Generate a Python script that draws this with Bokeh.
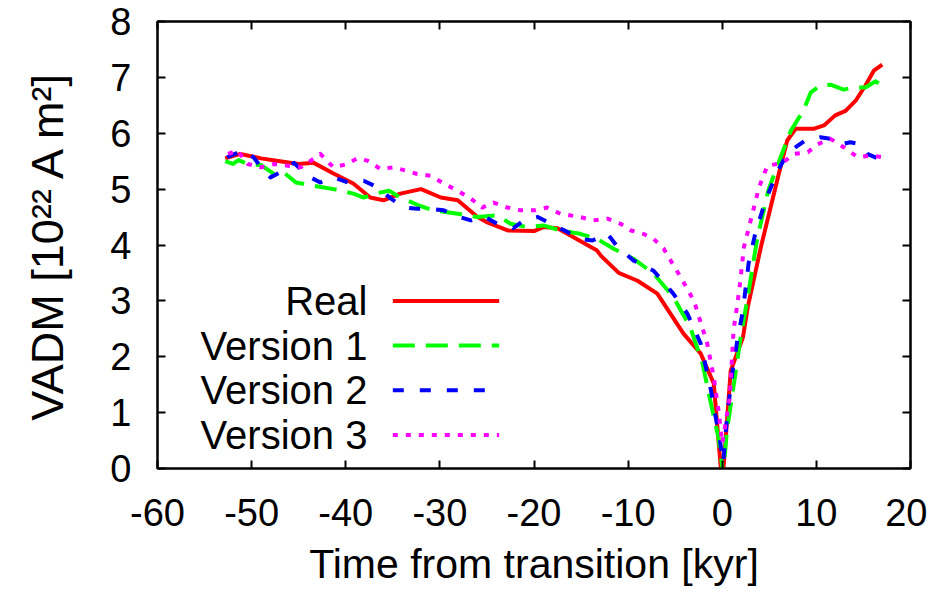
from bokeh.plotting import figure
from bokeh.models import Range1d, LinearAxis, Label, Arrow, FixedTicker
from bokeh.embed import file_html
from bokeh.resources import INLINE

# ---- data ----
real_x = [-52.8, -51.2, -49, -47, -45, -43.4, -41.3, -39.2, -37.4, -36, -34.2, -32, -29.9, -28.1,
          -26, -24.9, -22.8, -20, -19, -17.5, -15.8, -13.3, -12.9, -11, -9, -6.9, -4.1, -2.3,
          -0.9, 0.0, 0.9, 2.2, 2.7, 4.1, 5.9, 6.9, 7.8, 9.7, 10.8, 12, 13.1, 14.2, 15.2, 16.1, 17]
real_y = [5.55, 5.63, 5.55, 5.5, 5.45, 5.47, 5.28, 5.1, 4.85, 4.8, 4.92, 5.0, 4.85, 4.8,
          4.5, 4.4, 4.26, 4.25, 4.32, 4.3, 4.14, 3.9, 3.81, 3.5, 3.36, 3.13, 2.41, 2.06,
          1.52, -0.3, 1.75, 2.35, 2.88, 3.96, 5.2, 5.87, 6.08, 6.08, 6.14, 6.32, 6.4, 6.59, 6.85, 7.12, 7.23]

v1_x = [-52.8, -52, -51.4, -50.4, -49, -47.6, -46.6, -45.3, -43.4, -41.3, -39.2, -38.1, -36.6, -35.4,
        -34.2, -32.4, -30.7, -28.1, -26, -23.9, -22.5, -20.7, -19, -17.2, -15.1, -13.3, -11.5, -9.4,
        -7.3, -5.2, -3.4, -2.1, -1.2, -0.4, 0.1, 0.5, 1.4, 1.9, 2.7, 3.7, 4.9, 6.2, 7.3, 8.6, 9.4,
        10.4, 11.5, 12.9, 13.9, 15.2, 16.3, 17]
v1_y = [5.5, 5.45, 5.52, 5.45, 5.43, 5.27, 5.3, 5.12, 5.06, 5.0, 4.92, 4.85, 4.93, 4.97,
        4.85, 4.72, 4.62, 4.56, 4.5, 4.53, 4.38, 4.32, 4.35, 4.26, 4.2, 4.11, 3.93, 3.75,
        3.49, 3.07, 2.53, 1.88, 1.16, 0.55, -0.1, 0.68, 1.7, 2.29, 3.06, 4.1, 4.98, 5.57, 6.05, 6.4, 6.73,
        6.85, 6.87, 6.78, 6.82, 6.82, 6.93, 6.85]

v2_x = [-52.6, -51, -49.8, -48.7, -48, -46.6, -45.5, -44.1, -42.7, -41.3, -39.8, -38.1, -36.6, -35.2,
        -33.8, -32.4, -31, -29.6, -28.1, -26.7, -25.3, -23.9, -22.2, -21.1, -19.6, -18.2, -16.4, -15.1,
        -13.8, -12.2, -11.1, -9.4, -7.3, -5.2, -3.7, -2.3, -1.2, -0.2, 0.1, 0.5, 1.1, 1.6, 2.2, 2.8,
        3.5, 4.6, 5.9, 6.9, 7.8, 8.8, 10.4, 11.5, 12.6, 13.6, 14.7, 15.4, 16.5]
v2_y = [5.57, 5.69, 5.57, 5.33, 5.21, 5.33, 5.47, 5.24, 5.12, 5.21, 5.12, 5.15, 5.03, 4.83,
        4.67, 4.65, 4.65, 4.62, 4.51, 4.44, 4.51, 4.38, 4.3, 4.44, 4.5, 4.38, 4.23, 4.11,
        4.08, 4.2, 3.96, 3.72, 3.54, 3.13, 2.77, 2.24, 1.4, 0.45, 0.1, 0.91, 1.75, 2.29, 2.83, 3.67,
        4.2, 4.8, 5.33, 5.63, 5.75, 5.87, 5.93, 5.9, 5.8, 5.84, 5.8, 5.63, 5.55]

v3_x = [-52.5, -51.5, -50.4, -49, -47.6, -46.2, -44.8, -43.7, -42.7, -41.3, -39.8, -38.8, -37.7, -36.3,
        -34.9, -33.4, -32.4, -31, -29.6, -28.1, -26.7, -25.5, -24.3, -22.8, -21.4, -20, -18.6, -17.2,
        -15.1, -13.7, -12.2, -10.8, -9.7, -8.4, -7.3, -6.2, -5.8, -4.4, -3, -1.6, -0.9, -0.4, 0.0,
        0.8, 1.2, 1.8, 2.3, 3.2, 3.9, 4.8, 5.9, 6.5, 7.6, 9.1, 10.1, 11.5, 12.9, 14.4, 15.8, 17]
v3_y = [5.63, 5.69, 5.45, 5.39, 5.45, 5.42, 5.39, 5.51, 5.63, 5.39, 5.45, 5.55, 5.51, 5.36,
        5.39, 5.32, 5.27, 5.24, 5.1, 4.97, 4.83, 4.67, 4.76, 4.67, 4.62, 4.62, 4.67, 4.56,
        4.5, 4.44, 4.47, 4.38, 4.26, 4.2, 4.11, 3.93, 3.81, 3.42, 3.0, 2.24, 1.63, 1.04, 0.45,
        1.27, 2.47, 3.18, 3.96, 4.56, 5.03, 5.42, 5.45, 5.48, 5.63, 5.66, 5.8, 5.9, 5.75, 5.57, 5.6, 5.57]

series_names = ["Real", "Version 1", "Version 2", "Version 3"]
x_ticks = [-60, -50, -40, -30, -20, -10, 0, 10, 20]
y_ticks = [0, 1, 2, 3, 4, 5, 6, 7, 8]
x_tick_labels = ["-60", "-50", "-40", "-30", "-20", "-10", "0", "10", "20"]

# ---- styles ----
colors = ["#ff0000", "#00ff00", "#0000ff", "#ff00ff"]
dashes = ["solid", "22 11", "11 16", "5 8"]
FONT = "Liberation Sans"
TICK_FS = "38px"
XLAB_FS = "41px"
YLAB_FS = "45px"
LEG_FS = "40px"
LW = 4

p = figure(width=927, height=590, output_backend="svg", toolbar_location=None,
           x_range=Range1d(-60, 20), y_range=Range1d(0, 8),
           min_border_left=157, min_border_right=17, min_border_top=21, min_border_bottom=122)
p.grid.visible = False
p.outline_line_color = "black"
p.outline_line_width = 2
p.background_fill_color = "white"
p.border_fill_color = "white"

p.xaxis.ticker = FixedTicker(ticks=x_ticks)
p.yaxis.ticker = FixedTicker(ticks=y_ticks)
p.xaxis.major_label_overrides = {t: s for t, s in zip(x_ticks, x_tick_labels)}
for ax in [p.xaxis[0], p.yaxis[0]]:
    ax.major_tick_in = 8
    ax.major_tick_out = 0
    ax.minor_tick_line_color = None
    ax.axis_line_width = 2
    ax.major_tick_line_width = 2
    ax.major_label_text_font = FONT
    ax.major_label_text_font_size = TICK_FS
    ax.major_label_text_color = "black"
    ax.axis_label_text_font = FONT
    ax.axis_label_text_font_style = "normal"
    ax.axis_label_text_color = "black"

p.xaxis.axis_label = "Time from transition [kyr]"
p.yaxis.axis_label = "VADM [10\u00b2\u00b2 A m\u00b2]"
p.xaxis.axis_label_text_font_size = XLAB_FS
p.yaxis.axis_label_text_font_size = YLAB_FS
p.xaxis.major_label_standoff = 30
p.xaxis.axis_label_standoff = 12
p.yaxis.major_label_standoff = 26
p.yaxis.axis_label_standoff = 34

# mirrored ticks on top and right (no labels)
top = LinearAxis(ticker=FixedTicker(ticks=x_ticks), major_tick_in=8, major_tick_out=0,
                 minor_tick_line_color=None, major_label_overrides={t: "" for t in x_ticks},
                 major_label_standoff=0, axis_line_width=2, major_tick_line_width=2)
right = LinearAxis(ticker=FixedTicker(ticks=y_ticks), major_tick_in=8, major_tick_out=0,
                   minor_tick_line_color=None, major_label_overrides={t: "" for t in y_ticks},
                   major_label_standoff=0, axis_line_width=2, major_tick_line_width=2)
p.add_layout(top, "above")
p.add_layout(right, "right")

xs = [real_x, v1_x, v2_x, v3_x]
ys = [real_y, v1_y, v2_y, v3_y]
for xv, yv, c, d in zip(xs, ys, colors, dashes):
    p.line(xv, yv, line_color=c, line_width=LW, line_dash=d, line_join="round")

# legend (gnuplot style: text right-aligned, sample line on the right)
leg_text_x = -37.7
leg_line_x0 = -35.0
leg_line_x1 = -23.7
leg_y = [3.0, 2.2, 1.4, 0.6]
for name, c, d, yy in zip(series_names, colors, dashes, leg_y):
    p.add_layout(Label(x=leg_text_x, y=yy, text=name, text_align="right", text_baseline="middle",
                       text_font=FONT, text_font_size=LEG_FS, text_color="black"))
    p.add_layout(Arrow(x_start=leg_line_x0, y_start=yy, x_end=leg_line_x1, y_end=yy,
                       start=None, end=None, line_color=c, line_width=LW, line_dash=d))

open("out.html", "w").write(file_html(p, INLINE))
